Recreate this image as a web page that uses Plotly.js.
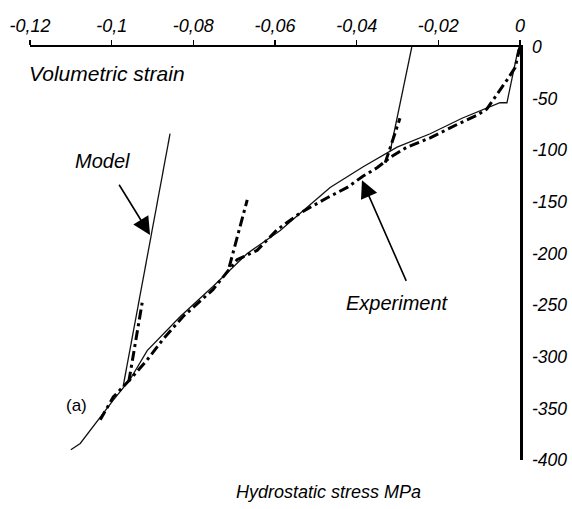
<!DOCTYPE html>
<html>
<head>
<meta charset="utf-8">
<script src="https://cdn.plot.ly/plotly-3.0.1.min.js"></script>
<style>html,body{margin:0;padding:0;background:#fff;}#chart{width:572px;height:509px;}</style>
</head>
<body>
<div id="chart"></div>
<script>
// Volumetric strain (x) and hydrostatic stress MPa (y)
const modelLoadX = [0, -0.0005, -0.0032, -0.0049, -0.0142, -0.0220, -0.0301, -0.0384, -0.0465, -0.0588, -0.0668, -0.0752, -0.0832, -0.0913, -0.0955, -0.0996, -0.1077, -0.1100];
const modelLoadY = [0, -3, -54, -54, -69, -84, -97, -116, -136, -178, -200, -232, -261, -294, -322, -342, -384, -390];
const modelUnload1X = [-0.0318, -0.0265];
const modelUnload1Y = [-101, 0];
const modelUnload2X = [-0.0972, -0.0857];
const modelUnload2Y = [-329, -84];

const expLoadX = [0, -0.0012, -0.0032, -0.0054, -0.0081, -0.0105, -0.0154, -0.0220, -0.0277, -0.0318, -0.0350, -0.0384, -0.0423, -0.0472, -0.0539, -0.0595, -0.0644, -0.0693, -0.0752, -0.0825, -0.0874, -0.0913, -0.0955, -0.0996, -0.1028];
const expLoadY = [0, -20, -32, -45, -60, -66, -75, -88, -97, -107, -117, -125, -136, -146, -161, -177, -197, -206, -235, -261, -283, -303, -322, -339, -361];
const expUnload1X = [-0.0330, -0.0294];
const expUnload1Y = [-112, -69];
const expUnload2X = [-0.0712, -0.0668];
const expUnload2Y = [-213, -148];
const expUnload3X = [-0.0958, -0.0925];
const expUnload3Y = [-324, -247];

const xTickVals = [-0.12, -0.1, -0.08, -0.06, -0.04, -0.02, 0];
const xTickText = ['-0,12', '-0,1', '-0,08', '-0,06', '-0,04', '-0,02', '0'];
const yTickVals = [0, -50, -100, -150, -200, -250, -300, -350, -400];
const yTickText = ['0', '-50', '-100', '-150', '-200', '-250', '-300', '-350', '-400'];

const FONT = 'Liberation Sans, Arial, Helvetica, sans-serif';
const modelLine = {color: '#111', width: 1.3};
const expLine = {color: '#000', width: 3, dash: '10px,4px,3px,4px'};

function tr(x, y, line, name) {
  return {x: x, y: y, mode: 'lines', line: line, name: name, showlegend: false, hoverinfo: 'skip'};
}

const data = [
  tr(modelLoadX, modelLoadY, modelLine, 'Model'),
  tr(modelUnload1X, modelUnload1Y, modelLine, 'Model'),
  tr(modelUnload2X, modelUnload2Y, modelLine, 'Model'),
  tr(expLoadX, expLoadY, expLine, 'Experiment'),
  tr(expUnload1X, expUnload1Y, expLine, 'Experiment'),
  tr(expUnload2X, expUnload2Y, expLine, 'Experiment'),
  tr(expUnload3X, expUnload3Y, expLine, 'Experiment')
];

const layout = {
  width: 572, height: 509,
  margin: {l: 30, r: 52, t: 47, b: 49},
  paper_bgcolor: '#fff', plot_bgcolor: '#fff',
  showlegend: false,
  font: {family: FONT, color: '#000'},
  xaxis: {
    side: 'top', range: [-0.12, 0], showgrid: false, zeroline: false,
    showline: true, linecolor: '#000', linewidth: 2.5,
    ticks: 'outside', ticklen: 5, tickwidth: 1.5, tickcolor: '#000',
    tickvals: xTickVals, ticktext: xTickText,
    tickfont: {family: FONT, size: 18, style: 'italic', color: '#000'},
    fixedrange: true
  },
  yaxis: {
    side: 'right', range: [-400, 0], showgrid: false, zeroline: false,
    showline: true, linecolor: '#000', linewidth: 2.5,
    ticks: '', tickvals: yTickVals, ticktext: yTickText,
    ticklabelstandoff: 6,
    tickfont: {family: FONT, size: 17.5, style: 'italic', color: '#000'},
    fixedrange: true
  },
  annotations: [
    {xref: 'paper', yref: 'paper', x: -0.006, y: 0.935, xanchor: 'left', yanchor: 'middle',
     text: 'Volumetric strain', showarrow: false,
     font: {family: FONT, size: 21, style: 'italic', color: '#000'}},
    {xref: 'paper', yref: 'paper', x: 0.61, y: -0.078, xanchor: 'center', yanchor: 'middle',
     text: 'Hydrostatic stress MPa', showarrow: false,
     font: {family: FONT, size: 18, style: 'italic', color: '#000'}},
    {xref: 'x', yref: 'y', x: -0.1023, y: -110, text: 'Model', showarrow: false,
     font: {family: FONT, size: 20, style: 'italic', color: '#000'}},
    {xref: 'x', yref: 'y', x: -0.0301, y: -248, text: 'Experiment', showarrow: false,
     font: {family: FONT, size: 20, style: 'italic', color: '#000'}},
    {xref: 'x', yref: 'y', x: -0.1087, y: -347, text: '(a)', showarrow: false,
     font: {family: FONT, size: 17, color: '#000'}},
    {xref: 'x', yref: 'y', axref: 'x', ayref: 'y', x: -0.0906, y: -182, ax: -0.0984, ay: -132,
     text: '', showarrow: true, arrowhead: 2, arrowsize: 2.2, arrowwidth: 1.6, arrowcolor: '#000'},
    {xref: 'x', yref: 'y', axref: 'x', ayref: 'y', x: -0.0387, y: -129, ax: -0.0277, ay: -228,
     text: '', showarrow: true, arrowhead: 2, arrowsize: 2.2, arrowwidth: 1.6, arrowcolor: '#000'}
  ]
};

Plotly.newPlot('chart', data, layout, {displayModeBar: false, staticPlot: true});
</script>
</body>
</html>
